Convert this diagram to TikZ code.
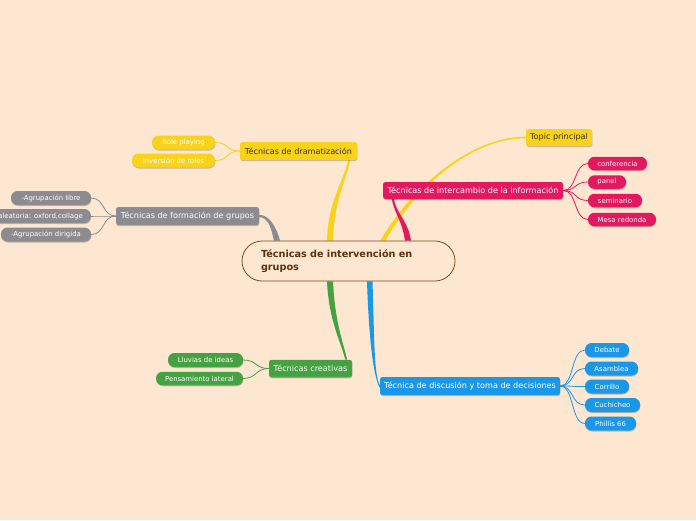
\documentclass[tikz,border=0pt]{standalone}
\usepackage{fontspec}
\setmainfont{DejaVu Sans}
\usetikzlibrary{shadows,calc}
\pgfdeclarelayer{bgl}
\pgfdeclarelayer{background}
\pgfsetlayers{bgl,background,main}
\definecolor{bg}{HTML}{FDE7D0}
\definecolor{cy}{HTML}{F8D21B}
\definecolor{cg}{HTML}{8C8C90}
\definecolor{cp}{HTML}{E2195F}
\definecolor{cgr}{HTML}{45A142}
\definecolor{cb}{HTML}{1B97E8}
\definecolor{cbr}{HTML}{7A4A1C}
\definecolor{ctx}{HTML}{5A3210}
\definecolor{dk}{HTML}{333333}
\tikzset{
  shad/.style={drop shadow={shadow xshift=0.4pt,shadow yshift=-1pt,fill=black,opacity=0.22}},
  box/.style={shad,rounded corners=2.5pt,minimum height=18pt,inner sep=0pt,text=white,font=\fontsize{8.1}{9}\selectfont},
  leaf/.style={shad,rounded corners=6.5pt,minimum height=14pt,inner sep=0pt,text=white,font=\fontsize{6.9}{8}\selectfont},
  mainbr/.style={fill=#1},
  subbr/.style={draw=#1,line width=0.8pt},
}
\begin{document}
\begin{tikzpicture}[x=1pt,y=-1pt]
\useasboundingbox (0,0) rectangle (696,520);
\begin{pgfonlayer}{bgl}
\fill[bg] (0,0) rectangle (696,520);
\end{pgfonlayer}
% nodes
\node[draw=cbr,line width=0.8pt,fill=bg,rounded corners=20pt,minimum width=213pt,minimum height=40pt,inner sep=0pt,text width=175pt,align=left,text=ctx,font=\bfseries\fontsize{9.7}{12.5}\selectfont] (c) at (348.5,261) {Técnicas de intervención en\\grupos};
\node[box,fill=cy,text=dk,minimum width=117pt] (dr) at (298.5,151) {Técnicas de dramatización};
\node[leaf,fill=cy,minimum width=63pt] (rp) at (183.5,142.5) {Role playing};
\node[leaf,fill=cy,minimum width=83pt] (ir) at (173.5,160.5) {Inversión de roles};
\node[box,fill=cg,minimum width=143pt] (fg) at (187.5,216) {Técnicas de formación de grupos};
\node[leaf,fill=cg,minimum width=80pt] (al) at (51,198) {-Agrupación libre};
\node[leaf,fill=cg,inner xsep=8pt,anchor=east] (aa) at (91,216) {-Agrupación aleatoria: oxford,collage};
\node[leaf,fill=cg,minimum width=90pt] (ad) at (46,234.5) {-Agrupación dirigida};
\node[box,fill=cy,text=dk,minimum width=66pt,minimum height=17pt] (tp) at (559,137.5) {Topic principal};
\node[box,fill=cp,minimum width=180pt,minimum height=17pt] (ii) at (473,190.5) {Técnicas de intercambio de la información};
\node[leaf,fill=cp,minimum width=59pt,minimum height=13.5pt] (co) at (617.5,163.5) {conferencia};
\node[leaf,fill=cp,minimum width=38pt,minimum height=13.5pt] (pa) at (607,182) {panel};
\node[leaf,fill=cp,minimum width=54pt,minimum height=13.5pt] (se) at (615,200.5) {seminario};
\node[leaf,fill=cp,minimum width=68pt,minimum height=13.5pt] (mr) at (622,219.5) {Mesa redonda};
\node[box,fill=cgr,minimum width=83pt,minimum height=17.5pt] (tc) at (310.5,368.5) {Técnicas creativas};
\node[leaf,fill=cgr,minimum width=75pt] (ll) at (205.5,360) {Lluvias de ideas};
\node[leaf,fill=cgr,minimum width=87pt,minimum height=13.5pt] (pl) at (199.5,378.5) {Pensamiento lateral};
\node[box,fill=cb,minimum width=180pt] (td) at (470,386) {Técnica de discusión y toma de decisiones};
\node[leaf,fill=cb,minimum width=44pt] (de) at (607,350) {Debate};
\node[leaf,fill=cb,minimum width=53pt] (as) at (611.5,368.5) {Asamblea};
\node[leaf,fill=cb,minimum width=44pt] (cr) at (607,386.5) {Corrillo};
\node[leaf,fill=cb,minimum width=55pt] (cu) at (612.5,405) {Cuchicheo};
\node[leaf,fill=cb,minimum width=51pt] (ph) at (610.5,423.5) {Phillis 66};
% connectors behind nodes
\begin{pgfonlayer}{background}
% main branches (tapered)
\fill[mainbr=cg] ([xshift=-74.5pt]c.north) .. controls +(-3,-12) and +(10,1) .. ([yshift=-1pt]fg.east)
  -- ([yshift=1pt]fg.east) .. controls +(10,-1) and +(-3,-12) .. ([xshift=-68.5pt]c.north) -- cycle;
\fill[mainbr=cy] ([xshift=-21.5pt]c.north) .. controls +(1,-40) and +(-4,20) .. ([xshift=-9pt]dr.south east)
  -- ([xshift=-7pt]dr.south east) .. controls +(-4,20) and +(1,-40) .. ([xshift=-15.5pt]c.north) -- cycle;
\fill[mainbr=cy] ([xshift=32pt]c.north) .. controls +(25,-45) and +(-60,0) .. ([yshift=0.8pt]tp.west)
  -- ([yshift=-0.8pt]tp.west) .. controls +(-60,0) and +(25,-45) .. ([xshift=37pt]c.north) -- cycle;
\fill[mainbr=cp] ([xshift=56.5pt]c.north) .. controls +(-3,-20) and +(3,15) .. ([xshift=9pt]ii.south west)
  -- ([xshift=11pt]ii.south west) .. controls +(3,15) and +(-3,-20) .. ([xshift=62.5pt]c.north) -- cycle;
\fill[mainbr=cgr] ([xshift=-21.5pt]c.south) .. controls +(2,40) and +(-5,-20) .. ([xshift=-7pt]tc.north east)
  -- ([xshift=-5pt]tc.north east) .. controls +(-5,-20) and +(2,40) .. ([xshift=-15.5pt]c.south) -- cycle;
\fill[mainbr=cb] ([xshift=18.5pt]c.south) .. controls +(2,60) and +(-7,-8) .. ([xshift=1pt,yshift=-3pt]td.west)
  -- ([xshift=1pt,yshift=-0.5pt]td.west) .. controls +(-7,-8) and +(2,60) .. ([xshift=24pt]c.south) -- cycle;
% sub branches
\foreach \n in {rp,ir}{\draw[subbr=cy] (dr.west) .. controls +(-14,0) and +(14,0) .. (\n.east);}
\foreach \n in {al,aa,ad}{\draw[subbr=cg] (fg.west) .. controls +(-14,0) and +(14,0) .. (\n.east);}
\foreach \n in {co,pa,se,mr}{\draw[subbr=cp] (ii.east) .. controls +(14,0) and +(-14,0) .. (\n.west);}
\foreach \n in {ll,pl}{\draw[subbr=cgr] (tc.west) .. controls +(-14,0) and +(14,0) .. (\n.east);}
\foreach \n in {de,as,cr,cu,ph}{\draw[subbr=cb] (td.east) .. controls +(14,0) and +(-14,0) .. (\n.west);}
\end{pgfonlayer}
\end{tikzpicture}
\end{document}
